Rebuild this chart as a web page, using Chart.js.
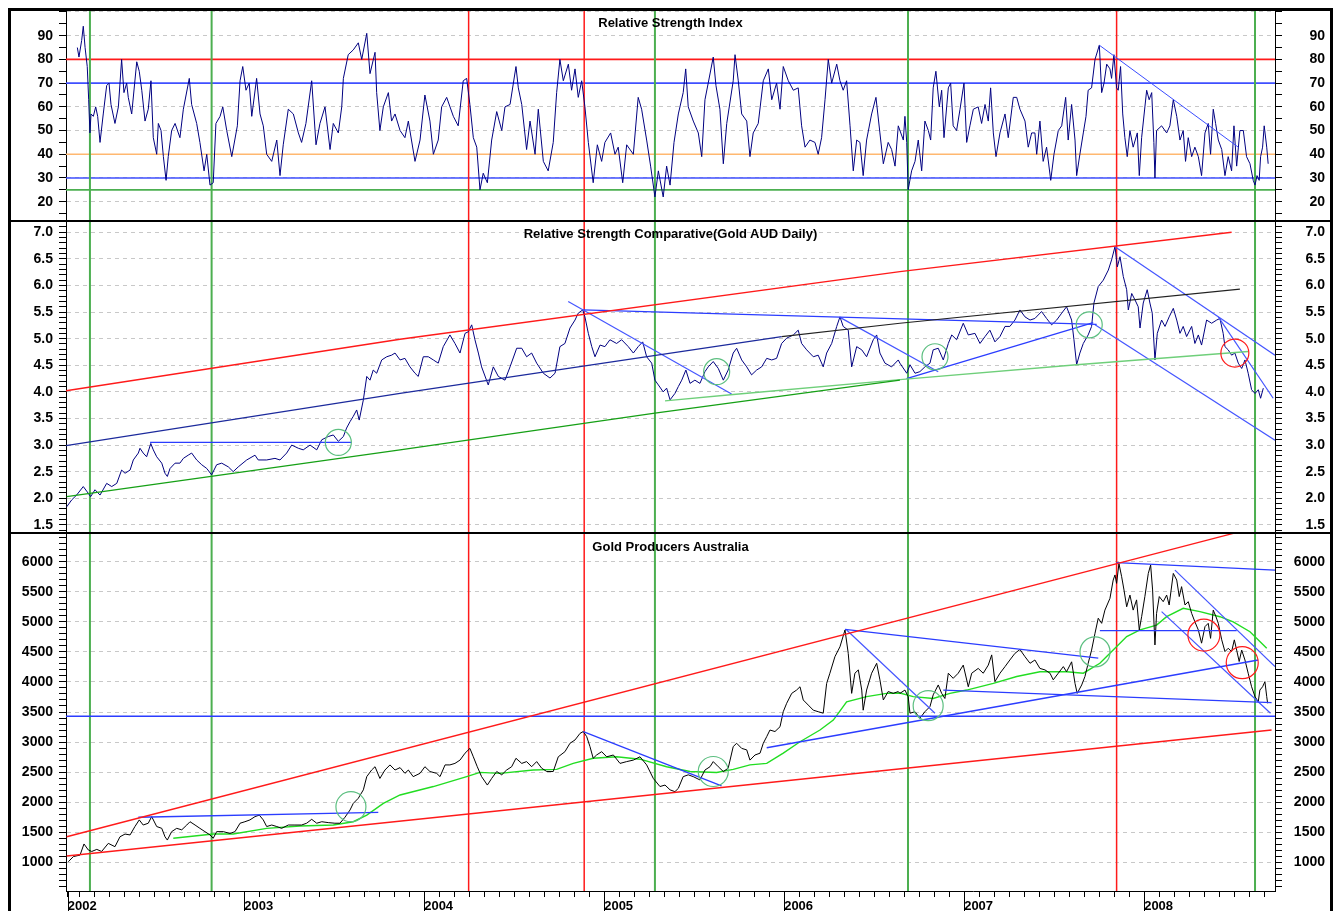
<!DOCTYPE html>
<html>
<head>
<meta charset="utf-8">
<title>Gold Producers Australia</title>
<script src="https://cdn.jsdelivr.net/npm/chart.js"></script>
<style>
  body { margin: 0; background: #fff; font-family: 'Liberation Sans', Arial, sans-serif; }
  #wrap { position: relative; width: 1333px; height: 911px; overflow: hidden; background: #fff; }
  canvas { position: absolute; left: 0; }
  .frame { position: absolute; left: 8px; top: 8px; width: 1325px; height: 930px; border: 3px solid #000; box-sizing: border-box; }
  .divider { position: absolute; left: 8px; width: 1325px; height: 2px; background: #000; }
  .title { position: absolute; left: 66px; width: 1209px; text-align: center; font-weight: bold; font-size: 13px; line-height: 16px; color: #000; }
</style>
</head>
<body>
<div id="wrap">
  <canvas id="rsiChart" width="1333" height="221" style="top:0"></canvas>
  <canvas id="rscChart" width="1333" height="312" style="top:221px"></canvas>
  <canvas id="gpChart" width="1333" height="378" style="top:533px"></canvas>
  <div class="divider" style="top:220px"></div>
  <div class="divider" style="top:532px"></div>
  <div class="frame"></div>
  <div class="title" style="top:15px">Relative Strength Index</div>
  <div class="title" style="top:226px">Relative Strength Comparative(Gold AUD Daily)</div>
  <div class="title" style="top:539px">Gold Producers Australia</div>
</div>

<script>
// ---- data (x = decimal year) ----
const xMin = 2002.01, xMax = 2008.727;

const yearTicks = [2002.02, 2003, 2004, 2005, 2006, 2007, 2008];
const yearLabels = ['2002', '2003', '2004', '2005', '2006', '2007', '2008'];

const markerDates = [2002.143, 2002.819, 2004.247, 2004.889, 2005.282, 2006.688, 2007.847, 2008.616];
const markerKinds = ['buy', 'buy', 'sell', 'sell', 'buy', 'buy', 'sell', 'buy'];

const rsiTickLabels = [20, 30, 40, 50, 60, 70, 80, 90];
const rscTickLabels = [1.5, 2.0, 2.5, 3.0, 3.5, 4.0, 4.5, 5.0, 5.5, 6.0, 6.5, 7.0];
const gpTickLabels = [1000, 1500, 2000, 2500, 3000, 3500, 4000, 4500, 5000, 5500, 6000];

const rsiLevels = [80, 70, 40, 30, 25];
const rsiLevelKinds = ['red', 'blue', 'orange', 'blue', 'green'];

const rsi = [
[2002.073,85],[2002.082,81],[2002.097,88],[2002.106,94],[2002.116,85],[2002.128,77],[2002.136,63],[2002.143,49],[2002.149,57],[2002.162,56],[2002.175,60],[2002.186,56],[2002.199,45],[2002.217,57],[2002.236,69],[2002.249,70],[2002.26,61],[2002.282,53],[2002.301,60],[2002.319,80],[2002.332,66],[2002.347,70],[2002.356,64],[2002.375,57],[2002.403,79],[2002.417,75],[2002.431,67],[2002.449,54],[2002.467,59],[2002.482,71],[2002.495,47],[2002.514,40],[2002.523,53],[2002.538,50],[2002.551,39],[2002.566,29],[2002.578,39],[2002.597,50],[2002.616,53],[2002.643,47],[2002.662,59],[2002.695,72],[2002.708,61],[2002.736,53],[2002.754,45],[2002.777,33],[2002.792,40],[2002.81,27],[2002.828,28],[2002.843,53],[2002.866,56],[2002.881,60],[2002.903,50],[2002.931,39],[2002.962,52],[2002.977,71],[2002.992,77],
[2003.01,67],[2003.028,70],[2003.042,56],[2003.069,72],[2003.088,57],[2003.106,52],[2003.125,40],[2003.153,37],[2003.181,46],[2003.199,31],[2003.217,44],[2003.245,59],[2003.273,57],[2003.301,49],[2003.319,45],[2003.343,53],[2003.375,71],[2003.399,44],[2003.421,53],[2003.449,60],[2003.477,42],[2003.495,53],[2003.523,49],[2003.542,60],[2003.551,72],[2003.578,82],[2003.606,84],[2003.634,87],[2003.653,80],[2003.681,91],[2003.699,74],[2003.727,83],[2003.736,66],[2003.754,50],[2003.773,60],[2003.801,66],[2003.819,54],[2003.838,57],[2003.866,50],[2003.893,47],[2003.912,54],[2003.949,37],[2003.977,46],
[2004.004,65],[2004.032,54],[2004.051,40],[2004.078,46],[2004.097,60],[2004.125,64],[2004.162,56],[2004.189,52],[2004.217,71],[2004.236,72],[2004.254,61],[2004.273,47],[2004.292,43],[2004.31,25],[2004.328,32],[2004.351,28],[2004.375,46],[2004.403,58],[2004.431,50],[2004.449,60],[2004.477,61],[2004.51,77],[2004.523,68],[2004.542,61],[2004.569,42],[2004.588,54],[2004.616,40],[2004.634,59],[2004.662,37],[2004.689,33],[2004.717,45],[2004.736,66],[2004.754,80],[2004.773,71],[2004.801,78],[2004.819,67],[2004.838,76],[2004.856,64],[2004.875,71],[2004.893,60],[2004.912,45],[2004.939,28],[2004.962,44],[2004.986,37],
[2005.004,45],[2005.036,49],[2005.06,40],[2005.078,43],[2005.103,28],[2005.125,44],[2005.162,40],[2005.189,64],[2005.208,59],[2005.236,46],[2005.258,35],[2005.282,22],[2005.301,33],[2005.328,22],[2005.347,35],[2005.366,27],[2005.388,45],[2005.412,57],[2005.439,66],[2005.453,76],[2005.467,60],[2005.495,54],[2005.523,49],[2005.542,39],[2005.56,63],[2005.578,70],[2005.606,81],[2005.621,69],[2005.643,59],[2005.662,36],[2005.681,53],[2005.717,71],[2005.727,82],[2005.745,71],[2005.764,57],[2005.792,54],[2005.81,39],[2005.828,49],[2005.856,53],[2005.884,71],[2005.912,76],[2005.931,63],[2005.958,70],[2005.977,59],[2005.995,77],
[2006.023,71],[2006.051,67],[2006.078,68],[2006.097,52],[2006.116,43],[2006.143,46],[2006.171,45],[2006.189,40],[2006.208,47],[2006.227,63],[2006.245,80],[2006.264,70],[2006.292,78],[2006.31,71],[2006.328,67],[2006.347,71],[2006.366,52],[2006.384,33],[2006.403,46],[2006.421,45],[2006.439,31],[2006.458,46],[2006.486,57],[2006.51,64],[2006.532,49],[2006.551,36],[2006.578,45],[2006.597,42],[2006.616,35],[2006.634,52],[2006.662,46],[2006.671,56],[2006.681,45],[2006.689,25],[2006.708,33],[2006.727,37],[2006.745,46],[2006.764,33],[2006.782,54],[2006.801,50],[2006.814,46],[2006.828,68],[2006.843,75],[2006.862,60],[2006.875,67],[2006.888,47],[2006.912,68],[2006.925,70],[2006.939,52],[2006.958,50],[2006.977,59],[2006.999,70],
[2007.014,45],[2007.032,52],[2007.051,59],[2007.078,60],[2007.097,53],[2007.116,61],[2007.134,54],[2007.147,68],[2007.162,49],[2007.177,39],[2007.199,49],[2007.227,57],[2007.245,47],[2007.273,64],[2007.292,64],[2007.31,59],[2007.338,54],[2007.356,43],[2007.375,49],[2007.393,49],[2007.403,40],[2007.421,54],[2007.439,37],[2007.458,43],[2007.481,29],[2007.499,40],[2007.523,50],[2007.542,52],[2007.564,64],[2007.578,46],[2007.597,61],[2007.616,46],[2007.625,31],[2007.643,40],[2007.662,49],[2007.677,56],[2007.689,67],[2007.708,68],[2007.727,80],[2007.751,86],[2007.764,66],[2007.777,70],[2007.792,78],[2007.81,76],[2007.819,72],[2007.832,82],[2007.847,68],[2007.856,67],[2007.869,77],[2007.881,57],[2007.893,47],[2007.906,39],[2007.921,50],[2007.939,43],[2007.962,49],[2007.973,31],[2007.986,47],
[2008.014,67],[2008.028,63],[2008.042,66],[2008.054,45],[2008.06,30],[2008.069,50],[2008.097,52],[2008.125,49],[2008.143,52],[2008.162,63],[2008.181,56],[2008.199,46],[2008.217,50],[2008.23,37],[2008.245,47],[2008.264,39],[2008.282,43],[2008.301,39],[2008.319,31],[2008.338,49],[2008.356,53],[2008.369,40],[2008.384,59],[2008.397,53],[2008.412,46],[2008.431,42],[2008.449,31],[2008.467,39],[2008.486,33],[2008.499,52],[2008.514,35],[2008.532,50],[2008.551,50],[2008.569,39],[2008.588,36],[2008.606,29],[2008.616,27],[2008.627,31],[2008.639,29],[2008.647,39],[2008.658,43],[2008.667,52],[2008.681,43],[2008.689,36]
];
const rsiTrend = [[2007.751, 86], [2008.523, 43]];

const rsc = [
[2002.014,1.84],[2002.042,1.97],[2002.069,2.06],[2002.106,2.22],[2002.128,2.12],[2002.147,2.03],[2002.171,2.16],[2002.199,2.06],[2002.236,2.28],[2002.264,2.22],[2002.292,2.28],[2002.319,2.53],[2002.338,2.47],[2002.366,2.53],[2002.384,2.72],[2002.412,2.85],[2002.421,2.94],[2002.439,2.85],[2002.458,2.78],[2002.481,3.03],[2002.495,2.91],[2002.514,2.78],[2002.542,2.66],[2002.56,2.47],[2002.573,2.41],[2002.588,2.56],[2002.616,2.66],[2002.643,2.66],[2002.662,2.75],[2002.689,2.81],[2002.708,2.85],[2002.736,2.72],[2002.764,2.63],[2002.792,2.56],[2002.819,2.44],[2002.847,2.63],[2002.875,2.66],[2002.912,2.59],[2002.939,2.50],[2002.967,2.59],
[2003.014,2.72],[2003.06,2.81],[2003.078,2.72],[2003.125,2.72],[2003.171,2.75],[2003.199,2.72],[2003.236,2.85],[2003.264,3.0],[2003.301,2.94],[2003.328,2.91],[2003.366,3.0],[2003.403,2.91],[2003.431,3.10],[2003.467,3.16],[2003.495,3.19],[2003.523,3.07],[2003.551,3.16],[2003.569,3.32],[2003.588,3.44],[2003.606,3.54],[2003.625,3.66],[2003.639,3.47],[2003.662,3.85],[2003.681,4.29],[2003.699,4.22],[2003.717,4.41],[2003.736,4.35],[2003.764,4.60],[2003.792,4.66],[2003.819,4.69],[2003.838,4.73],[2003.866,4.60],[2003.893,4.63],[2003.921,4.47],[2003.949,4.35],[2003.967,4.29],[2003.995,4.66],
[2004.023,4.66],[2004.051,4.60],[2004.078,4.54],[2004.106,4.85],[2004.143,5.07],[2004.171,4.91],[2004.199,4.73],[2004.227,5.10],[2004.245,5.13],[2004.264,5.26],[2004.282,4.98],[2004.301,4.73],[2004.319,4.47],[2004.356,4.13],[2004.384,4.47],[2004.412,4.29],[2004.449,4.22],[2004.477,4.47],[2004.514,4.82],[2004.542,4.82],[2004.569,4.66],[2004.597,4.73],[2004.625,4.54],[2004.662,4.35],[2004.699,4.26],[2004.727,4.35],[2004.754,4.85],[2004.782,4.91],[2004.81,5.20],[2004.838,5.35],[2004.856,5.48],[2004.881,5.54],[2004.893,5.41],[2004.912,5.10],[2004.931,4.85],[2004.949,4.66],[2004.977,4.88],
[2005.004,4.85],[2005.032,4.98],[2005.069,4.91],[2005.097,4.98],[2005.134,4.85],[2005.162,4.73],[2005.189,4.85],[2005.214,4.94],[2005.236,4.66],[2005.264,4.54],[2005.282,4.22],[2005.301,4.13],[2005.328,4.0],[2005.347,4.07],[2005.366,3.85],[2005.393,3.97],[2005.412,4.10],[2005.431,4.22],[2005.454,4.41],[2005.477,4.16],[2005.504,4.22],[2005.532,4.16],[2005.56,4.38],[2005.578,4.47],[2005.606,4.57],[2005.634,4.44],[2005.662,4.22],[2005.689,4.41],[2005.717,4.73],[2005.736,4.82],[2005.764,4.60],[2005.792,4.47],[2005.819,4.32],[2005.847,4.41],[2005.875,4.47],[2005.903,4.63],[2005.931,4.60],[2005.958,4.63],[2005.986,4.91],
[2006.014,5.01],[2006.051,5.07],[2006.078,5.16],[2006.097,4.91],[2006.125,4.79],[2006.162,4.66],[2006.189,4.69],[2006.217,4.47],[2006.236,4.73],[2006.264,4.91],[2006.292,5.23],[2006.31,5.41],[2006.328,5.23],[2006.356,5.16],[2006.375,4.47],[2006.403,4.85],[2006.431,4.79],[2006.458,4.66],[2006.495,4.98],[2006.514,5.07],[2006.532,4.73],[2006.56,4.54],[2006.597,4.47],[2006.634,4.60],[2006.643,4.54],[2006.681,4.35],[2006.699,4.51],[2006.727,4.35],[2006.754,4.38],[2006.782,4.47],[2006.81,4.54],[2006.828,4.79],[2006.856,4.82],[2006.884,4.60],[2006.912,4.91],[2006.931,5.07],[2006.958,4.98],[2006.995,5.29],
[2007.023,5.07],[2007.06,5.10],[2007.088,4.91],[2007.116,5.04],[2007.143,5.16],[2007.171,4.94],[2007.199,5.04],[2007.227,5.23],[2007.254,5.23],[2007.282,5.35],[2007.31,5.54],[2007.338,5.41],[2007.366,5.35],[2007.393,5.38],[2007.43,5.51],[2007.458,5.38],[2007.486,5.26],[2007.514,5.35],[2007.542,5.48],[2007.569,5.60],[2007.597,5.35],[2007.61,4.98],[2007.625,4.51],[2007.643,4.73],[2007.662,4.91],[2007.689,5.07],[2007.708,5.23],[2007.721,5.67],[2007.745,5.98],[2007.773,6.10],[2007.801,6.29],[2007.819,6.48],[2007.838,6.73],[2007.851,6.35],[2007.866,6.54],[2007.884,6.17],[2007.903,5.92],[2007.912,5.54],[2007.931,5.85],[2007.949,5.73],[2007.967,5.60],[2007.977,5.20],[2007.995,5.67],
[2008.017,5.92],[2008.032,5.67],[2008.045,5.48],[2008.06,4.60],[2008.073,5.10],[2008.097,5.35],[2008.116,5.23],[2008.139,5.41],[2008.162,5.57],[2008.181,5.35],[2008.199,5.10],[2008.217,5.23],[2008.236,5.04],[2008.264,5.23],[2008.282,4.91],[2008.301,5.07],[2008.319,4.88],[2008.347,5.35],[2008.375,5.29],[2008.403,5.35],[2008.421,5.38],[2008.439,5.10],[2008.449,4.85],[2008.467,4.79],[2008.486,4.69],[2008.504,4.73],[2008.523,4.54],[2008.542,4.44],[2008.56,4.60],[2008.578,4.35],[2008.597,4.04],[2008.616,3.97],[2008.634,4.04],[2008.647,3.88],[2008.662,4.07]
];

// rsc trend lines
const rscRedLine = [[2002.01, 4.02], [2003.866, 4.99], [2006.643, 6.26], [2008.486, 7.0]];
const rscNavyLine = [[2002.01, 2.99], [2003.866, 3.97], [2005.986, 5.04]];
const rscBlackLine = [[2005.986, 5.04], [2006.643, 5.29], [2008.532, 5.93]];
const rscGreenLine = [[2002.014, 2.03], [2003.866, 2.91], [2005.282, 3.60], [2006.643, 4.22]];
const rscLightGreenLine = [[2005.338, 3.83], [2005.717, 3.95], [2006.643, 4.23], [2007.625, 4.51], [2008.578, 4.76]];
const rscFlatLine = [[2002.477, 3.05], [2003.597, 3.05]];
const rscDrop2005 = [[2004.80, 5.70], [2005.708, 3.96]];
const rscPeakLine = [[2004.881, 5.54], [2007.736, 5.27]];
const rscDrop2006 = [[2006.31, 5.40], [2006.856, 4.38]];
const rscRise2007 = [[2006.68, 4.25], [2007.717, 5.30]];
const rscChannelTop = [[2007.838, 6.73], [2008.727, 4.69]];
const rscChannelBottom = [[2007.727, 5.26], [2008.727, 3.09]];
const rscSteepLine = [[2008.412, 5.41], [2008.717, 3.88]];
const rscGreenCircles = [[2003.523, 3.05], [2005.625, 4.38], [2006.838, 4.66], [2007.695, 5.26]];
const rscRedCircles = [[2008.504, 4.73]];

const gp = [
[2002.023,1010],[2002.051,1095],[2002.088,1120],[2002.11,1305],[2002.134,1205],[2002.153,1180],[2002.181,1215],[2002.208,1180],[2002.245,1315],[2002.282,1260],[2002.31,1425],[2002.338,1470],[2002.366,1455],[2002.393,1595],[2002.417,1705],[2002.439,1620],[2002.467,1650],[2002.486,1760],[2002.514,1595],[2002.542,1565],[2002.56,1425],[2002.573,1370],[2002.597,1510],[2002.625,1565],[2002.653,1540],[2002.681,1620],[2002.699,1675],[2002.727,1620],[2002.754,1565],[2002.782,1510],[2002.81,1455],[2002.828,1400],[2002.847,1510],[2002.884,1510],[2002.921,1480],[2002.949,1510],[2002.977,1650],
[2003.004,1675],[2003.032,1705],[2003.06,1760],[2003.084,1785],[2003.106,1705],[2003.125,1595],[2003.153,1620],[2003.181,1595],[2003.208,1565],[2003.245,1620],[2003.282,1620],[2003.319,1620],[2003.347,1650],[2003.375,1715],[2003.403,1650],[2003.431,1675],[2003.467,1660],[2003.504,1650],[2003.532,1650],[2003.56,1750],[2003.588,1870],[2003.606,1980],[2003.634,2065],[2003.662,2205],[2003.681,2425],[2003.708,2535],[2003.727,2590],[2003.754,2395],[2003.782,2535],[2003.81,2620],[2003.838,2535],[2003.866,2575],[2003.893,2480],[2003.912,2535],[2003.939,2425],[2003.977,2480],
[2004.004,2590],[2004.032,2510],[2004.069,2480],[2004.088,2425],[2004.116,2620],[2004.143,2620],[2004.171,2645],[2004.199,2700],[2004.227,2815],[2004.254,2895],[2004.273,2755],[2004.295,2590],[2004.319,2425],[2004.351,2285],[2004.375,2395],[2004.403,2510],[2004.431,2455],[2004.458,2535],[2004.486,2590],[2004.51,2730],[2004.542,2645],[2004.569,2675],[2004.597,2590],[2004.625,2675],[2004.653,2565],[2004.681,2510],[2004.717,2510],[2004.745,2755],[2004.782,2840],[2004.81,2980],[2004.838,3035],[2004.866,3145],[2004.884,3175],[2004.903,3090],[2004.921,2925],[2004.939,2730],[2004.958,2785],[2004.986,2840],
[2005.014,2755],[2005.051,2785],[2005.088,2645],[2005.125,2675],[2005.162,2700],[2005.199,2755],[2005.236,2620],[2005.273,2395],[2005.31,2260],[2005.338,2285],[2005.366,2205],[2005.393,2175],[2005.412,2230],[2005.439,2425],[2005.467,2455],[2005.495,2425],[2005.532,2370],[2005.56,2535],[2005.588,2590],[2005.606,2675],[2005.634,2590],[2005.662,2510],[2005.689,2565],[2005.717,2925],[2005.736,2980],[2005.764,2895],[2005.792,2870],[2005.81,2700],[2005.838,2785],[2005.866,2815],[2005.884,2980],[2005.903,3090],[2005.921,3200],[2005.949,3175],[2005.977,3255],[2005.995,3505],
[2006.014,3645],[2006.042,3810],[2006.069,3865],[2006.088,3920],[2006.106,3700],[2006.134,3615],[2006.162,3530],[2006.189,3505],[2006.217,3480],[2006.236,3975],[2006.254,4145],[2006.282,4420],[2006.31,4585],[2006.338,4865],[2006.356,4475],[2006.375,3810],[2006.393,4145],[2006.412,4200],[2006.431,3865],[2006.439,3530],[2006.458,3865],[2006.486,4145],[2006.514,4310],[2006.532,4035],[2006.551,3700],[2006.578,3840],[2006.606,3810],[2006.634,3840],[2006.643,3810],[2006.671,3865],[2006.689,3755],[2006.699,3480],[2006.727,3505],[2006.754,3395],[2006.782,3505],[2006.81,3590],[2006.828,3785],[2006.856,3950],[2006.875,3810],[2006.893,3725],[2006.912,4145],[2006.939,4060],[2006.967,4145],[2006.995,4280],
[2007.023,3920],[2007.042,4145],[2007.078,4225],[2007.106,4145],[2007.134,4280],[2007.153,4450],[2007.171,4005],[2007.199,4145],[2007.227,4255],[2007.254,4365],[2007.282,4475],[2007.31,4540],[2007.338,4420],[2007.366,4310],[2007.393,4365],[2007.421,4225],[2007.449,4200],[2007.477,4145],[2007.495,4035],[2007.523,4145],[2007.551,4255],[2007.569,4170],[2007.597,4335],[2007.616,3975],[2007.628,3810],[2007.653,3950],[2007.671,4090],[2007.689,4310],[2007.708,4530],[2007.727,4810],[2007.745,5060],[2007.764,4975],[2007.782,5195],[2007.81,5390],[2007.828,5695],[2007.838,5780],[2007.847,5640],[2007.86,5970],[2007.875,5750],[2007.888,5530],[2007.903,5250],[2007.921,5445],[2007.939,5195],[2007.958,5365],[2007.973,4865],[2007.986,5085],
[2008.004,5420],[2008.023,5805],[2008.036,5945],[2008.047,5530],[2008.054,5030],[2008.06,4615],[2008.069,5140],[2008.084,5420],[2008.106,5335],[2008.125,5445],[2008.139,5280],[2008.162,5805],[2008.181,5695],[2008.195,5420],[2008.208,5585],[2008.227,5280],[2008.245,5335],[2008.264,5140],[2008.282,5000],[2008.301,4865],[2008.319,4645],[2008.338,4920],[2008.356,4975],[2008.369,4725],[2008.384,5195],[2008.399,5085],[2008.412,4975],[2008.431,4700],[2008.449,4505],[2008.467,4560],[2008.486,4505],[2008.501,4700],[2008.514,4530],[2008.528,4340],[2008.542,4530],[2008.56,4365],[2008.578,4145],[2008.597,3920],[2008.616,3755],[2008.634,3670],[2008.643,3865],[2008.658,3920],[2008.671,4005],[2008.681,3755],[2008.686,3645]
];

const gpAverage = [
[2002.606,1400],[2002.828,1470],[2002.939,1470],[2003.125,1565],[2003.31,1605],[2003.495,1620],[2003.606,1675],[2003.681,1785],[2003.773,1980],[2003.866,2120],[2004.051,2260],[2004.236,2425],[2004.31,2495],[2004.421,2480],[2004.606,2535],[2004.736,2545],[2004.828,2645],[2004.939,2730],[2005.069,2755],[2005.199,2715],[2005.347,2590],[2005.477,2510],[2005.625,2495],[2005.717,2545],[2005.81,2620],[2005.903,2645],[2005.995,2815],[2006.088,3005],[2006.199,3200],[2006.273,3365],[2006.347,3670],[2006.458,3755],[2006.569,3810],[2006.643,3815],[2006.717,3755],[2006.828,3725],[2006.921,3810],[2007.014,3865],[2007.162,3975],[2007.292,4090],[2007.421,4170],[2007.569,4170],[2007.662,4145],[2007.754,4310],[2007.828,4530],[2007.903,4755],[2007.977,4865],[2008.069,4945],[2008.125,5085],[2008.217,5225],[2008.31,5170],[2008.421,5085],[2008.495,5000],[2008.588,4835],[2008.681,4560]
];

// gold producers trend lines
const gpRedUpper = [[2002.014, 1425], [2008.495, 6470]];
const gpRedLower = [[2002.014, 1105], [2008.708, 3200]];
const gpSupport = [[2002.01, 3430], [2008.727, 3430]];
const gpFlat2002 = [[2002.412, 1750], [2003.745, 1830]];
const gpDrop2005 = [[2004.884, 3175], [2005.652, 2270]];
const gpRise = [[2005.903, 2905], [2008.634, 4365]];
const gpPeak2006 = [[2006.338, 4875], [2007.745, 4395]];
const gpDrop2006 = [[2006.347, 4865], [2006.838, 3480]];
const gpBase2007 = [[2006.884, 3865], [2008.708, 3655]];
const gpTop2008 = [[2007.847, 5985], [2008.727, 5860]];
const gpMid2008 = [[2007.754, 4855], [2008.514, 4855]];
const gpChannelTop = [[2008.171, 5860], [2008.727, 4255]];
const gpChannelBottom = [[2008.097, 5170], [2008.702, 3480]];
const gpGreenCircles = [[2003.593, 1925], [2005.606, 2510], [2006.80, 3605], [2007.727, 4500]];
const gpRedCircles = [[2008.332, 4780], [2008.545, 4320]];

// ---- styling ----
const FONT = { family: "'Liberation Sans', Arial, Helvetica, sans-serif", size: 14, weight: 'bold' };
const RED = '#ff1a1a', BLUE = '#2b3dff', NAVY = '#000080', GREEN = '#4caf50';
const markerColor = { buy: GREEN, sell: RED };
const levelColor = { red: RED, blue: '#3f4fff', orange: '#ffb870', green: GREEN };

function near(list, v) { return list.some(t => Math.abs(t - v) < 1e-6); }

function tickRange(from, to, step) {
  const out = [];
  for (let i = Math.round(from / step); i * step <= to + 1e-9; i++) out.push(Math.round(i * step * 100) / 100);
  return out;
}

function yScale(side, min, max, ticks, labels, grid, fmt) {
  const left = side === 'left';
  return {
    type: 'linear', position: side, min, max,
    afterBuildTicks: axis => { axis.ticks = ticks.map(v => ({ value: v })); },
    afterFit: axis => { axis.width = left ? 58 : 50; axis.paddingTop = 0; axis.paddingBottom = 0; },
    ticks: {
      autoSkip: false, padding: 6, crossAlign: left ? 'near' : 'far', color: '#000', font: FONT,
      callback: v => near(labels, v) ? fmt(v) : ''
    },
    grid: {
      drawOnChartArea: left, tickLength: 7, tickColor: '#000', tickWidth: 1, lineWidth: 1,
      color: ctx => (ctx.tick && near(grid, ctx.tick.value)) ? '#c8c8c8' : 'rgba(0,0,0,0)'
    },
    border: { display: true, color: '#000', width: 1, dash: [4, 4] }
  };
}

function line(points, color, width, order) {
  return { data: points, borderColor: color, borderWidth: width, pointRadius: 0, fill: false,
           tension: 0, order, xAxisID: 'x', yAxisID: 'y' };
}
function circles(points, color, radius) {
  return { data: points, showLine: false, pointStyle: 'circle', pointRadius: radius,
           pointBorderColor: color, pointBackgroundColor: 'rgba(0,0,0,0)', pointBorderWidth: 1.2,
           order: 0, xAxisID: 'x', yAxisID: 'y' };
}
function markers(min, max) {
  return markerDates.map((d, i) => line([[d, min], [d, max]], markerColor[markerKinds[i]],
    markerKinds[i] === 'buy' ? 2 : 1.5, 5));
}

const hiddenX = { type: 'linear', min: xMin, max: xMax, display: false };

function options(padTop, xScale, y, yr) {
  return {
    responsive: false, animation: false, devicePixelRatio: 1, events: [],
    layout: { autoPadding: false, padding: { left: 8, right: 8, top: padTop, bottom: 0 } },
    plugins: { legend: { display: false }, tooltip: { enabled: false } },
    scales: { x: xScale, y, yr }
  };
}

// ---- panel 1: RSI ----
const rsiMin = 11.86, rsiMax = 100.84;
const rsiTicks = tickRange(15, 100, 5);
const rsiGrid = rsiTickLabels.concat([100]);
new Chart(document.getElementById('rsiChart'), {
  type: 'line',
  data: {
    datasets: [
      ...rsiLevels.map((v, i) => line([[xMin, v], [xMax, v]], levelColor[rsiLevelKinds[i]], 1.6, 6)),
      ...markers(rsiMin, rsiMax),
      line(rsi, NAVY, 1, 3),
      line(rsiTrend, '#3a4cff', 1, 2)
    ]
  },
  options: options(10, hiddenX,
    yScale('left', rsiMin, rsiMax, rsiTicks, rsiTickLabels, rsiGrid, v => String(v)),
    yScale('right', rsiMin, rsiMax, rsiTicks, rsiTickLabels, [], v => String(v)))
});

// ---- panel 2: RSC ----
const rscMin = 1.347, rscMax = 7.212;
const rscTicks = tickRange(1.4, 7.2, 0.1);
new Chart(document.getElementById('rscChart'), {
  type: 'line',
  data: {
    datasets: [
      ...markers(rscMin, rscMax),
      line(rsc, NAVY, 1, 3),
      line(rscRedLine, RED, 1.4, 2),
      line(rscNavyLine, '#1c2a9c', 1.3, 2),
      line(rscBlackLine, '#222', 1.2, 2),
      line(rscGreenLine, '#16a016', 1.4, 2),
      line(rscLightGreenLine, '#6fcf7a', 1.4, 2),
      line(rscFlatLine, BLUE, 1.3, 2),
      line(rscDrop2005, '#4455ff', 1.2, 2),
      line(rscPeakLine, BLUE, 1.3, 2),
      line(rscDrop2006, '#4455ff', 1.2, 2),
      line(rscRise2007, BLUE, 1.3, 2),
      line(rscChannelTop, '#4455ff', 1.2, 2),
      line(rscChannelBottom, '#4455ff', 1.2, 2),
      line(rscSteepLine, '#4455ff', 1.2, 2),
      circles(rscGreenCircles, '#5cbf80', 13),
      circles(rscRedCircles, RED, 14)
    ]
  },
  options: options(0, hiddenX,
    yScale('left', rscMin, rscMax, rscTicks, rscTickLabels, rscTickLabels, v => v.toFixed(1)),
    yScale('right', rscMin, rscMax, rscTicks, rscTickLabels, [], v => v.toFixed(1)))
});

// ---- panel 3: Gold Producers ----
const gpMin = 522.7, gpMax = 6477.4;
const gpTicks = tickRange(600, 6400, 100);
const monthTicks = [yearTicks[0]];
for (let yr = 2002; yr <= 2008; yr++) {
  for (let m = 0; m < 12; m++) {
    const v = yr + m / 12;
    if (v > yearTicks[0] + 0.01 && v < xMax) monthTicks.push(v);
  }
}

const yearTickPlugin = {
  id: 'yearTicks',
  afterDraw(chart) {
    const { ctx, chartArea, scales: { x } } = chart;
    ctx.save();
    ctx.strokeStyle = '#000';
    ctx.lineWidth = 1;
    yearTicks.forEach(v => {
      const px = Math.round(x.getPixelForValue(v)) + 0.5;
      ctx.beginPath();
      ctx.moveTo(px, chartArea.bottom);
      ctx.lineTo(px, chart.height);
      ctx.stroke();
    });
    ctx.restore();
  }
};

const gpX = {
  type: 'linear', min: xMin, max: xMax, position: 'bottom',
  afterBuildTicks: axis => { axis.ticks = monthTicks.map(v => ({ value: v })); },
  afterFit: axis => { axis.height = 20; axis.paddingLeft = 0; axis.paddingRight = 0; },
  ticks: {
    autoSkip: false, maxRotation: 0, minRotation: 0, align: 'start', padding: 2, color: '#000',
    font: { family: FONT.family, size: 13, weight: 'bold' },
    callback: v => {
      const i = yearTicks.findIndex(t => Math.abs(t - v) < 1e-6);
      return i >= 0 ? yearLabels[i] : '';
    }
  },
  grid: { drawOnChartArea: false, tickLength: 6, tickColor: '#000' },
  border: { display: true, color: '#000', width: 1 }
};

new Chart(document.getElementById('gpChart'), {
  type: 'line',
  data: {
    datasets: [
      ...markers(gpMin, gpMax),
      line(gpAverage, '#22dd22', 1.4, 4),
      line(gp, '#000', 1, 3),
      line(gpRedUpper, RED, 1.4, 2),
      line(gpRedLower, RED, 1.4, 2),
      line(gpSupport, BLUE, 1.6, 2),
      line(gpFlat2002, BLUE, 1.4, 2),
      line(gpDrop2005, BLUE, 1.3, 2),
      line(gpRise, BLUE, 1.4, 2),
      line(gpPeak2006, BLUE, 1.3, 2),
      line(gpDrop2006, '#4455ff', 1.2, 2),
      line(gpBase2007, BLUE, 1.3, 2),
      line(gpTop2008, BLUE, 1.3, 2),
      line(gpMid2008, BLUE, 1.3, 2),
      line(gpChannelTop, '#4455ff', 1.2, 2),
      line(gpChannelBottom, '#4455ff', 1.2, 2),
      circles(gpGreenCircles, '#5cbf80', 15),
      circles(gpRedCircles, RED, 16)
    ]
  },
  options: options(0, gpX,
    yScale('left', gpMin, gpMax, gpTicks, gpTickLabels, gpTickLabels, v => String(v)),
    yScale('right', gpMin, gpMax, gpTicks, gpTickLabels, [], v => String(v))),
  plugins: [yearTickPlugin]
});
</script>
</body>
</html>
